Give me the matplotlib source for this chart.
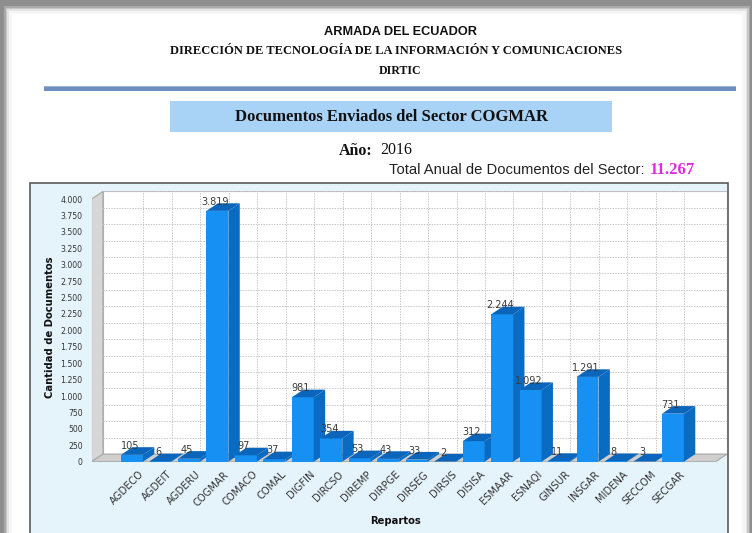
import matplotlib
matplotlib.use("Agg")
import matplotlib.pyplot as plt
from matplotlib.patches import Rectangle, Polygon
import numpy as np

# ---------------- data ----------------
categories = ["AGDECO", "AGDEIT", "AGDERU", "COGMAR", "COMACO", "COMAL", "DIGFIN",
              "DIRCSO", "DIREMP", "DIRPGE", "DIRSEG", "DIRSIS", "DISISA", "ESMAAR",
              "ESNAQI", "GINSUR", "INSGAR", "MIDENA", "SECCOM", "SECGAR"]
values = [105, 6, 45, 3819, 97, 37, 981, 354, 53, 43, 33, 2, 312, 2244,
          1092, 11, 1291, 8, 3, 731]
y_ticks = list(range(0, 4001, 250))
total_label = "11.267"
year_label = "2016"

W, H = 752, 533
fig = plt.figure(figsize=(W / 100, H / 100), dpi=100)
fig.patch.set_facecolor("#8e8e8e")


def fx(px):
    return px / W


def fy(py):
    return 1 - py / H


def frect(x0, y0, x1, y1, **kw):
    r = Rectangle((fx(x0), fy(y1)), fx(x1) - fx(x0), fy(y0) - fy(y1),
                  transform=fig.transFigure, zorder=-5, **kw)
    fig.add_artist(r)
    return r


# page with soft shadow
for k, a in enumerate([0.25, 0.35, 0.5, 0.7]):
    frect(10 - 6 + k * 1.5, 12 - 6 + k * 1.5, 744 + 6 - k * 1.5, 540, facecolor="white",
          edgecolor="none", alpha=a)
frect(12, 14, 742, 540, facecolor="white", edgecolor="none")

# header texts
fig.text(fx(400), fy(32), "ARMADA DEL ECUADOR", ha="center", va="center",
         fontsize=9.2, fontweight="bold", family="Liberation Sans", color="#111111")
fig.text(fx(396), fy(51), "DIRECCIÓN DE TECNOLOGÍA DE LA INFORMACIÓN Y COMUNICACIONES",
         ha="center", va="center", fontsize=9.0, fontweight="bold",
         family="Liberation Serif", color="#111111")
fig.text(fx(400), fy(71), "DIRTIC", ha="center", va="center", fontsize=8.6,
         fontweight="bold", family="Liberation Serif", color="#111111")

# double rule
frect(44, 86, 736, 91, facecolor="#6f8fbd", edgecolor="none")
frect(44, 86, 736, 87.3, facecolor="#9fb6d8", edgecolor="none")

# title box
frect(170, 101, 612, 132, facecolor="#a8d2f6", edgecolor="none")
fig.text(fx(391), fy(117), "Documentos Enviados del Sector COGMAR", ha="center",
         va="center", fontsize=12, fontweight="bold", family="Liberation Serif",
         color="#111111")

fig.text(fx(372), fy(151), "Año:", ha="right", va="center", fontsize=11.5,
         fontweight="bold", family="Liberation Serif", color="#111111")
fig.text(fx(380), fy(150), year_label, ha="left", va="center", fontsize=11.5,
         family="Liberation Serif", color="#111111")
fig.text(fx(645), fy(170), "Total Anual de Documentos del Sector:", ha="right",
         va="center", fontsize=10.6, family="Liberation Sans", color="#222222")
fig.text(fx(650), fy(170), total_label, ha="left", va="center", fontsize=12,
         fontweight="bold", family="Liberation Serif", color="#e028e0")

# chart panel
frect(30, 183, 728, 545, facecolor="#e5f3fb", edgecolor="#5a5a5a", linewidth=1.2)

# ---------------- 3D bar chart ----------------
x = np.arange(len(categories))
px_per_cat = 28.47
px_per_unit = 0.06567
x_center0 = 132.0
y_zero = 461.7
xl, xr = -1.42, 20.5
dx, dy = 0.40, 116
ymax = 4000 + dy + 4

ax_left = x_center0 + xl * px_per_cat
ax_w = (xr + dx - xl) * px_per_cat
ax_h = ymax * px_per_unit
ax = fig.add_axes([fx(ax_left), fy(y_zero), ax_w / W, ax_h / H])
ax.set_zorder(5)
ax.set_xlim(xl, xr + dx)
ax.set_ylim(0, ymax)
ax.patch.set_alpha(0)
for s in ax.spines.values():
    s.set_visible(False)

top_v = y_ticks[-1]
# back wall
ax.add_patch(Rectangle((xl + dx, dy), xr - xl, top_v, facecolor="white",
                       edgecolor="#b5b5b5", linewidth=0.8, zorder=0.5))
# left wall
ax.add_patch(Polygon([(xl, 0), (xl + dx, dy), (xl + dx, top_v + dy), (xl, top_v)],
                     closed=True, facecolor="#d6d6d6", edgecolor="#a8a8a8",
                     linewidth=0.8, zorder=0.6))
# floor
ax.add_patch(Polygon([(xl, 0), (xr, 0), (xr + dx, dy), (xl + dx, dy)], closed=True,
                     facecolor="#cfcfcf", edgecolor="#a8a8a8", linewidth=0.8,
                     zorder=0.6))
# grid on back wall
for t in y_ticks[1:]:
    ax.plot([xl + dx, xr + dx], [t + dy, t + dy], color="#c8c8c8", linewidth=0.7,
            linestyle=(0, (1.5, 1.2)), zorder=0.7)
for xi in x:
    ax.plot([xi + dx, xi + dx], [dy, top_v + dy], color="#c8c8c8", linewidth=0.7,
            linestyle=(0, (1.5, 1.2)), zorder=0.7)

front_c = "#1690f2"
side_c = "#0a6bc2"
top_c = "#0b66bb"
bw = 0.77
bars = ax.bar(x, values, width=bw, color=front_c, edgecolor="none", linewidth=0)
for i, (xi, v, b) in enumerate(zip(x, values, bars)):
    z = 2 + i * 0.01
    b.set_zorder(z)
    r = xi + bw / 2
    l = xi - bw / 2
    ax.add_patch(Polygon([(r, 0), (r + dx, dy), (r + dx, v + dy), (r, v)], closed=True,
                         facecolor=side_c, edgecolor="none", zorder=z))
    ax.add_patch(Polygon([(l, v), (r, v), (r + dx, v + dy), (l + dx, v + dy)],
                         closed=True, facecolor=top_c, edgecolor="none", zorder=z))
    lab = f"{v:,}".replace(",", ".")
    ax.annotate(lab, (xi, v), xytext=(-1.5, 6.5), textcoords="offset points",
                ha="center", va="center", fontsize=7, color="#3a3a3a",
                family="DejaVu Sans", zorder=5)

ax.set_yticks(y_ticks)
ax.set_yticklabels([f"{t:,}".replace(",", ".") for t in y_ticks], fontsize=5.6,
                   family="DejaVu Sans", color="#333333")
ax.tick_params(axis="y", length=0, pad=6.5)
ax.set_xticks(x + 0.35)
ax.set_xticklabels(categories, rotation=45, ha="right", rotation_mode="anchor",
                   va="center", fontsize=7.2, family="DejaVu Sans", color="#333333")
ax.tick_params(axis="x", length=0, pad=8)

fig.text(fx(50), fy(327), "Cantidad de Documentos", rotation=90, ha="center",
         va="center", fontsize=7.2, fontweight="bold", family="DejaVu Sans",
         color="#111111")
fig.text(fx(396), fy(521), "Repartos", ha="center", va="center", fontsize=7.2,
         fontweight="bold", family="DejaVu Sans", color="#111111")

fig.savefig("out.png", dpi=100, facecolor=fig.get_facecolor())
